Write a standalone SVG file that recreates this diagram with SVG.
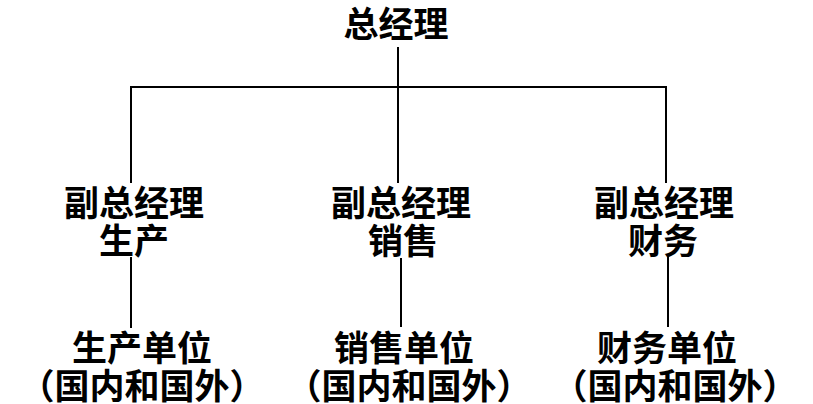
<svg xmlns="http://www.w3.org/2000/svg" width="813" height="404" viewBox="0 0 813 404">
<style>
text{font-family:"Noto Sans CJK SC","Noto Sans CJK TC",sans-serif;font-size:35px;font-weight:700;fill:#000;text-anchor:middle}
.ln{stroke:#000;stroke-width:2;fill:none}
</style>
<rect width="813" height="404" fill="#fff"/>
<g id="connectors">
<path class="ln" d="M398 47V183"/>
<path class="ln" d="M131 183V87H666V183"/>
<path class="ln" d="M131 257V328"/>
<path class="ln" d="M401 258V327"/>
<path class="ln" d="M668 257V327"/>
</g>
<g id="ceo"><text x="396" y="37">总经理</text></g>
<g id="vp-production"><text x="134" y="216">副总经理</text><text x="134" y="254">生产</text></g>
<g id="vp-sales"><text x="401" y="216">副总经理</text><text x="403" y="254">销售</text></g>
<g id="vp-finance"><text x="664" y="216">副总经理</text><text x="663" y="254">财务</text></g>
<g id="unit-production"><text x="142" y="361">生产单位</text><text x="142" y="399">（国内和国外）</text></g>
<g id="unit-sales"><text x="404" y="361">销售单位</text><text x="409" y="399">（国内和国外）</text></g>
<g id="unit-finance"><text x="667" y="361">财务单位</text><text x="675" y="399">（国内和国外）</text></g>
</svg>
